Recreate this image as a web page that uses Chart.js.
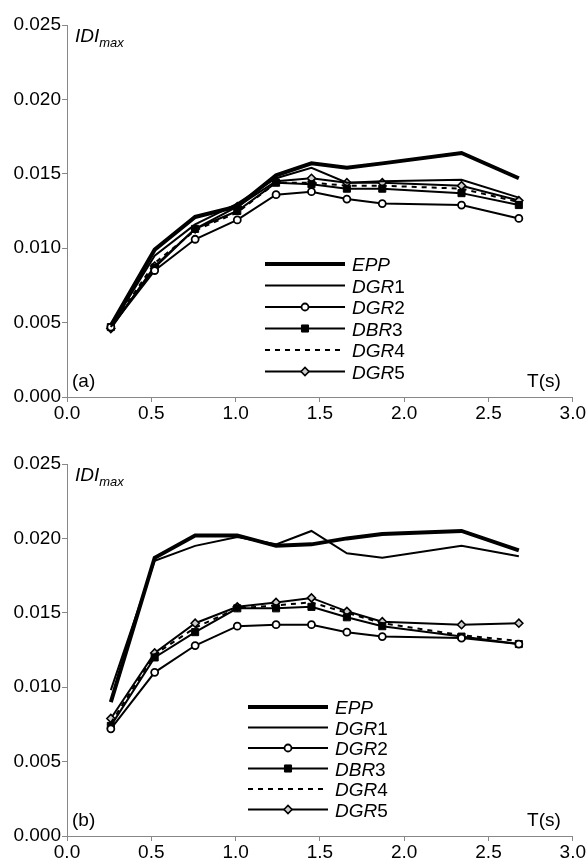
<!DOCTYPE html>
<html>
<head>
<meta charset="utf-8">
<script src="https://cdn.jsdelivr.net/npm/chart.js@4/dist/chart.umd.min.js"></script>
<style>
  html, body { margin: 0; padding: 0; background: #fff; }
  body { width: 586px; height: 862px; position: relative; overflow: hidden; }
  .panel { position: absolute; left: 0; width: 586px; height: 423px; }
  #wrapA { top: 0; }
  #wrapB { top: 439px; }
</style>
</head>
<body>
<div class="panel" id="wrapA"><canvas id="chartA"></canvas></div>
<div class="panel" id="wrapB"><canvas id="chartB"></canvas></div>
<script>
// Period T(s) of each analysed structure
var periods = [0.26, 0.52, 0.76, 1.01, 1.24, 1.45, 1.66, 1.87, 2.34, 2.68];

// (a) maximum inter-storey drift index
var eppA  = [0.0048, 0.0099, 0.0121, 0.0128, 0.0149, 0.0157, 0.0154, 0.0157, 0.0164, 0.0147];
var dgr1A = [0.0047, 0.0095, 0.0116, 0.0130, 0.0147, 0.0154, 0.0144, 0.0145, 0.0146, 0.0134];
var dgr2A = [0.0047, 0.0085, 0.0106, 0.0119, 0.0136, 0.0138, 0.0133, 0.0130, 0.0129, 0.0120];
var dbr3A = [0.0047, 0.0087, 0.0113, 0.0125, 0.0144, 0.0143, 0.0140, 0.0140, 0.0137, 0.0129];
var dgr4A = [0.0047, 0.0090, 0.0112, 0.0124, 0.0144, 0.0144, 0.0142, 0.0142, 0.0140, 0.0131];
var dgr5A = [0.0046, 0.0088, 0.0113, 0.0128, 0.0145, 0.0147, 0.0144, 0.0144, 0.0142, 0.0132];

// (b)
var eppB  = [0.0090, 0.0187, 0.0202, 0.0202, 0.0195, 0.0196, 0.0200, 0.0203, 0.0205, 0.0192];
var dgr1B = [0.0098, 0.0185, 0.0195, 0.0201, 0.0196, 0.0205, 0.0190, 0.0187, 0.0195, 0.0188];
var dgr2B = [0.0072, 0.0110, 0.0128, 0.0141, 0.0142, 0.0142, 0.0137, 0.0134, 0.0133, 0.0129];
var dbr3B = [0.0074, 0.0120, 0.0137, 0.0153, 0.0153, 0.0154, 0.0147, 0.0141, 0.0134, 0.0129];
var dgr4B = [0.0076, 0.0122, 0.0140, 0.0153, 0.0155, 0.0157, 0.0150, 0.0143, 0.0135, 0.0131];
var dgr5B = [0.0079, 0.0123, 0.0143, 0.0154, 0.0157, 0.0160, 0.0151, 0.0144, 0.0142, 0.0143];

var xTicks = [0, 0.5, 1.0, 1.5, 2.0, 2.5, 3.0];
var yTicks = [0, 0.005, 0.010, 0.015, 0.020, 0.025];

// legend text: italic prefix + upright suffix
var seriesNames = [['EPP', ''], ['DGR', '1'], ['DGR', '2'], ['DBR', '3'], ['DGR', '4'], ['DGR', '5']];

var FONT = '"Liberation Sans", Arial, sans-serif';

function pts(vals) {
  return vals.map(function (v, i) { return { x: periods[i], y: v }; });
}

function makeSets(epp, d1, d2, d3, d4, d5) {
  var base = { borderColor: '#000', backgroundColor: '#000', fill: false, tension: 0 };
  return [
    Object.assign({}, base, { label: 'EPP', data: pts(epp), borderWidth: 4, pointRadius: 0 }),
    Object.assign({}, base, { label: 'DGR1', data: pts(d1), borderWidth: 2, pointRadius: 0 }),
    Object.assign({}, base, { label: 'DGR2', data: pts(d2), borderWidth: 2, pointRadius: 3.5,
      pointStyle: 'circle', pointBackgroundColor: '#fff', pointBorderWidth: 1.8 }),
    Object.assign({}, base, { label: 'DBR3', data: pts(d3), borderWidth: 2, pointRadius: 5,
      pointStyle: 'rect', pointBackgroundColor: '#000', pointBorderWidth: 1 }),
    Object.assign({}, base, { label: 'DGR4', data: pts(d4), borderWidth: 2, pointRadius: 0,
      borderDash: [5, 5] }),
    Object.assign({}, base, { label: 'DGR5', data: pts(d5), borderWidth: 2, pointRadius: 4,
      pointStyle: 'rectRot', pointBackgroundColor: '#ccc', pointBorderWidth: 1.6 })
  ];
}

// axis captions, panel tag and the hand-placed legend
var decorations = {
  id: 'decorations',
  afterDraw: function (chart, args, opts) {
    var ctx = chart.ctx;
    var area = chart.chartArea;
    ctx.save();
    ctx.fillStyle = '#000';
    ctx.textBaseline = 'alphabetic';

    // IDI_max
    ctx.font = 'italic 19px ' + FONT;
    ctx.textAlign = 'left';
    ctx.fillText('IDI', area.left + 8, area.top + 17);
    var w = ctx.measureText('IDI').width;
    ctx.font = 'italic 13px ' + FONT;
    ctx.fillText('max', area.left + 8 + w, area.top + 22);

    // panel tag and T(s)
    ctx.font = '19px ' + FONT;
    ctx.fillText(opts.tag, area.left + 5, area.bottom - 10);
    ctx.textAlign = 'right';
    ctx.fillText('T(s)', area.right - 12, area.bottom - 10);

    // legend rows
    var ds = chart.data.datasets;
    for (var i = 0; i < ds.length; i++) {
      var y = opts.legendY + i * opts.legendStep;
      var x0 = opts.legendX, x1 = opts.legendX + 80;
      ctx.strokeStyle = '#000';
      ctx.lineWidth = ds[i].borderWidth;
      ctx.setLineDash(ds[i].borderDash || []);
      ctx.beginPath();
      ctx.moveTo(x0, y);
      ctx.lineTo(x1, y);
      ctx.stroke();
      ctx.setLineDash([]);
      if (ds[i].pointRadius > 0) {
        ctx.lineWidth = ds[i].pointBorderWidth;
        ctx.fillStyle = ds[i].pointBackgroundColor;
        ctx.strokeStyle = '#000';
        Chart.helpers.drawPoint(ctx, {
          pointStyle: ds[i].pointStyle, radius: ds[i].pointRadius,
          borderWidth: ds[i].pointBorderWidth, rotation: 0
        }, (x0 + x1) / 2, y);
      }
      ctx.fillStyle = '#000';
      ctx.textAlign = 'left';
      ctx.font = 'italic 19px ' + FONT;
      var tx = x1 + 7;
      ctx.fillText(seriesNames[i][0], tx, y + 7);
      var pw = ctx.measureText(seriesNames[i][0]).width;
      ctx.font = '19px ' + FONT;
      ctx.fillText(seriesNames[i][1], tx + pw, y + 7);
    }
    ctx.restore();
  }
};

function makeChart(id, sets, tag, legendX, legendY, legendStep) {
  return new Chart(document.getElementById(id).getContext('2d'), {
    type: 'line',
    data: { datasets: sets },
    options: {
      responsive: true,
      maintainAspectRatio: false,
      animation: false,
      layout: { padding: { top: 25, right: 13, left: 0, bottom: 0 } },
      scales: {
        x: {
          type: 'linear', min: 0, max: 3,
          afterBuildTicks: function (axis) { axis.ticks = xTicks.map(function (v) { return { value: v }; }); },
          afterFit: function (axis) { axis.height = 26; },
          border: { display: true, color: '#888', width: 1 },
          grid: { display: true, drawOnChartArea: false, drawTicks: true, tickLength: 5, color: '#888' },
          ticks: { color: '#000', font: { family: FONT, size: 19 }, padding: 0, maxRotation: 0,
            callback: function (v) { return v.toFixed(1); } }
        },
        y: {
          min: 0, max: 0.025,
          afterBuildTicks: function (axis) { axis.ticks = yTicks.map(function (v) { return { value: v }; }); },
          afterFit: function (axis) { axis.width = 67; },
          border: { display: true, color: '#888', width: 1 },
          grid: { display: true, drawOnChartArea: false, drawTicks: true, tickLength: 5, color: '#888' },
          ticks: { color: '#000', font: { family: FONT, size: 19 }, padding: 1,
            callback: function (v) { return v.toFixed(3); } }
        }
      },
      plugins: {
        legend: { display: false },
        tooltip: { enabled: false },
        decorations: { tag: tag, legendX: legendX, legendY: legendY, legendStep: legendStep }
      }
    },
    plugins: [decorations]
  });
}

makeChart('chartA', makeSets(eppA, dgr1A, dgr2A, dbr3A, dgr4A, dgr5A), '(a)', 265, 264, 21.5);
makeChart('chartB', makeSets(eppB, dgr1B, dgr2B, dbr3B, dgr4B, dgr5B), '(b)', 248, 268, 20.5);
</script>
</body>
</html>
